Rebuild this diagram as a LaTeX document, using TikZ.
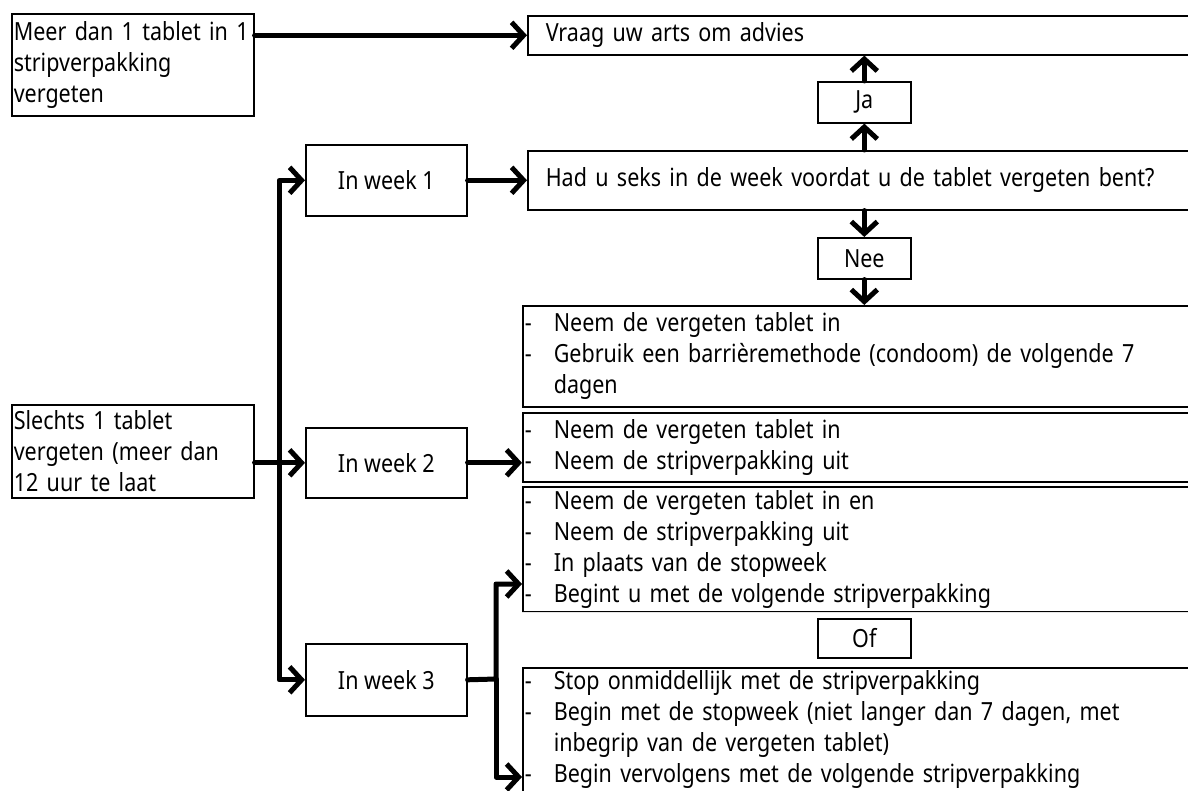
\documentclass[tikz,border=0pt]{standalone}
\usepackage{fontspec}
\setmainfont{Noto Sans}[FakeStretch=0.86]
\usetikzlibrary{arrows.meta}
\newcommand{\stepline}[1]{\makebox[29pt][l]{-}#1}
\newcommand{\stepcont}[1]{\hspace*{29pt}#1}
\tikzset{
  >={Straight Barb[length=12pt,width=26pt]},
  flow/.style={->,line width=5pt,line cap=round,line join=round,draw=black},
  box/.style={draw=black,line width=1.6pt,anchor=north west,inner ysep=0pt,align=left},
  infobox/.style={box,inner xsep=2pt,text width=238pt,minimum width=242pt},
  questionbox/.style={box,inner xsep=18pt,text width=644pt,minimum width=680pt},
  weekbox/.style={box,align=center,inner xsep=0pt,minimum width=161pt,minimum height=71pt},
  answerbox/.style={box,align=center,inner xsep=0pt,minimum width=93pt,minimum height=41pt},
  adviceframe/.style={box,inner xsep=2pt,text width=686pt,minimum width=690pt}
}

\begin{document}
\begin{tikzpicture}[x=1pt,y=-1pt,font=\fontsize{25pt}{31pt}\selectfont]
  \useasboundingbox (0,0) rectangle (1188,791);
  \clip (0,0) rectangle (1188,791);

  % left column
  \node[infobox,minimum height=102pt] (more) at (11,13)
    {Meer dan 1 tablet in 1\\stripverpakking\\vergeten};
  \node[infobox,minimum height=93pt] (single) at (11,404)
    {Slechts 1 tablet\\vergeten (meer dan\\12 uur te laat};

  % weeks
  \node[weekbox] (week1) at (305,144) {In week 1};
  \node[weekbox,minimum height=70pt] (week2) at (305,427) {In week 2};
  \node[weekbox,minimum height=72pt] (week3) at (305,643) {In week 3};

  % right column
  \node[questionbox,minimum height=39pt] (advice) at (527,15) {Vraag uw arts om advies};
  \node[answerbox] (yes) at (817,81) {Ja};
  \node[questionbox,minimum height=59pt] (sex) at (527,150)
    {Had u seks in de week voordat u de tablet vergeten bent?};
  \node[answerbox] (no) at (817,237) {Nee};
  \node[adviceframe,minimum height=101pt] (advice1) at (522,305)
    {\stepline{Neem de vergeten tablet in}\\
     \stepline{Gebruik een barrièremethode (condoom) de volgende 7}\\
     \stepcont{dagen}};
  \node[adviceframe,minimum height=69pt] (advice2) at (522,412)
    {\stepline{Neem de vergeten tablet in}\\
     \stepline{Neem de stripverpakking uit}};
  \node[adviceframe,minimum height=125pt] (advice3a) at (522,486)
    {\stepline{Neem de vergeten tablet in en}\\
     \stepline{Neem de stripverpakking uit}\\
     \stepline{In plaats van de stopweek}\\
     \stepline{Begint u met de volgende stripverpakking}};
  \draw[black!10,line width=1.6pt] (advice3a.south west) -- (advice3a.south east);
  \node[answerbox,minimum height=39pt] (or) at (817,618) {Of};
  \node[adviceframe,minimum height=124pt] (advice3b) at (522,667)
    {\stepline{Stop onmiddellijk met de stripverpakking}\\
     \stepline{Begin met de stopweek (niet langer dan 7 dagen, met}\\
     \stepcont{inbegrip van de vergeten tablet)}\\
     \stepline{Begin vervolgens met de volgende stripverpakking}};

  % connectors
  \coordinate (split) at (279,462);
  \coordinate (fork) at (496,679);
  \coordinate (tip3a) at (522,584);
  \coordinate (tip3b) at (522,777);

  \draw[flow] (more.east |- advice.west) -- (advice.west);
  \draw[flow] (week1.east) -- (week1.east -| sex.west);
  \draw[flow] (sex.north -| yes.north) -- (yes.south);
  \draw[flow] (yes.north) -- (yes.north |- advice.south);
  \draw[flow] (sex.south -| no.north) -- (no.north);
  \draw[flow] (no.south) -- (no.south |- advice1.north);
  \draw[flow] (single.east |- week2.west) -- (week2.west);
  \draw[flow] (split) |- (week1.west);
  \draw[flow] (split) |- (week3.west);
  \draw[flow] (week2.east) -- (week2.east -| advice2.west);
  \draw[flow] (week3.east) -- (fork) |- (tip3a);
  \draw[flow] (fork) |- (tip3b);
\end{tikzpicture}
\end{document}
